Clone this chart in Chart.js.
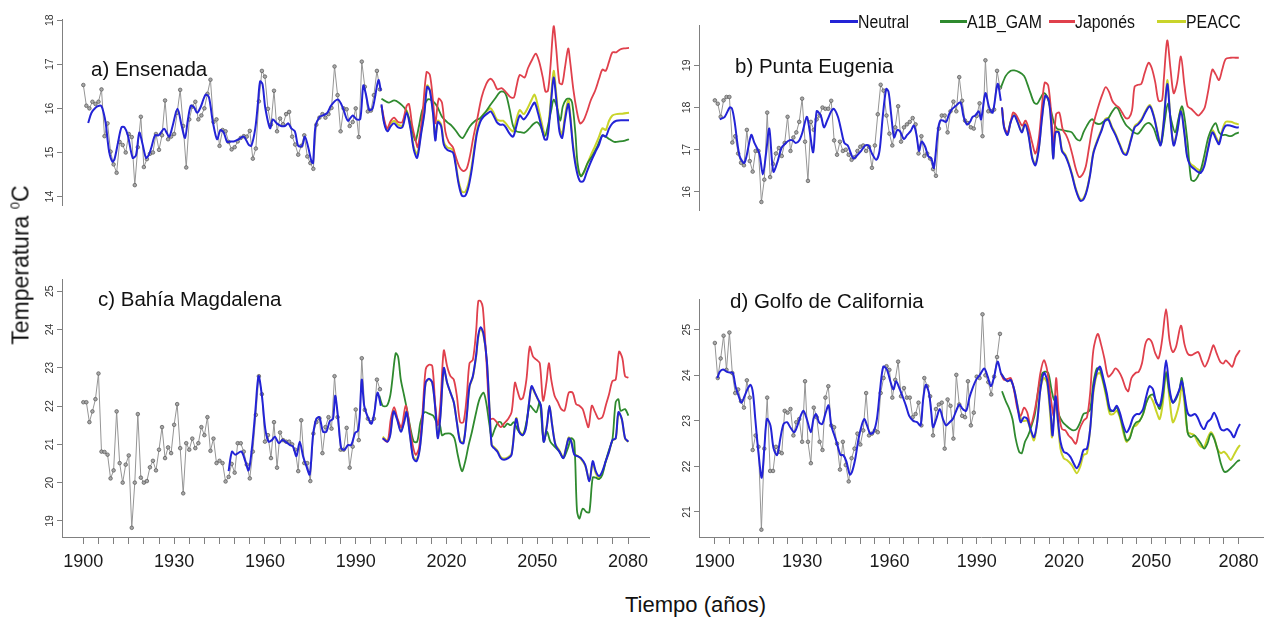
<!DOCTYPE html>
<html><head><meta charset="utf-8">
<script src="https://cdn.jsdelivr.net/npm/chart.js@4.4.1/dist/chart.umd.min.js"></script>
<style>
html,body{margin:0;padding:0;background:#fff;width:1270px;height:619px;overflow:hidden;font-family:"Liberation Sans",Arial,sans-serif;}
canvas{position:absolute;}
.t{position:absolute;white-space:nowrap;color:#111;}
.ttl{font-size:20.5px;line-height:20.5px;}
.lg{position:absolute;height:3px;}
.lt{position:absolute;top:13px;font-size:18px;line-height:18px;color:#111;transform:scaleX(0.88);transform-origin:left center;white-space:nowrap;}
</style></head><body>
<canvas id="ca" style="left:22px;top:15px" width="632" height="235"></canvas>
<canvas id="cb" style="left:659px;top:21px" width="609" height="234"></canvas>
<canvas id="cc" style="left:22px;top:275px" width="632" height="307"></canvas>
<canvas id="cd" style="left:659px;top:295px" width="609" height="287"></canvas>

<div class="t ttl" style="left:91px;top:59px">a) Ensenada</div>
<div class="t ttl" style="left:735px;top:56px">b) Punta Eugenia</div>
<div class="t ttl" style="left:98px;top:289px">c) Bahía Magdalena</div>
<div class="t ttl" style="left:730px;top:291px">d) Golfo de California</div>

<div class="t" style="left:21px;top:265px;font-size:23px;line-height:23px;transform:translate(-50%,-50%) rotate(-90deg);">Temperatura <sup style="font-size:13px;vertical-align:9px;line-height:0">0</sup>C</div>
<div class="t" style="left:625px;top:594px;font-size:22px;line-height:22px;">Tiempo (años)</div>

<div class="lg" style="left:830px;top:20px;width:28px;background:#2323d6"></div>
<span class="lt" style="left:858px">Neutral</span>
<div class="lg" style="left:940px;top:20px;width:27px;background:#2f8a2f"></div>
<span class="lt" style="left:967px">A1B_GAM</span>
<div class="lg" style="left:1049px;top:20px;width:26px;background:#e0404c"></div>
<span class="lt" style="left:1075px">Japonés</span>
<div class="lg" style="left:1157px;top:20px;width:29px;background:#c9d42a"></div>
<span class="lt" style="left:1186px">PEACC</span>

<script>
// ---------- axis ticks ----------
const xTickLabels = [1900,1930,1960,1990,2020,2050,2080];
const xMinorTicks = [1900,1905,1910,1915,1920,1925,1930,1935,1940,1945,1950,1955,1960,1965,1970,1975,1980,1985,1990,1995,2000,2005,2010,2015,2020,2025,2030,2035,2040,2045,2050,2055,2060,2065,2070,2075,2080];
const yTicksA = [14,15,16,17,18];
const yTicksB = [16,17,18,19];
const yTicksC = [19,20,21,22,23,24,25];
const yTicksD = [21,22,23,24,25];

// ---------- observed years (categories) ----------
const obsYears = [1900,1901,1902,1903,1904,1905,1906,1907,1908,1909,1910,1911,1912,1913,1914,1915,1916,1917,1918,1919,1920,1921,1922,1923,1924,1925,1926,1927,1928,1929,1930,1931,1932,1933,1934,1935,1936,1937,1938,1939,1940,1941,1942,1943,1944,1945,1946,1947,1948,1949,1950,1951,1952,1953,1954,1955,1956,1957,1958,1959,1960,1961,1962,1963,1964,1965,1966,1967,1968,1969,1970,1971,1972,1973,1974,1975,1976,1977,1978,1979,1980,1981,1982,1983,1984,1985,1986,1987,1988,1989,1990,1991,1992,1993,1994,1995,1996,1997,1998];

// ---------- a) Ensenada ----------
const aObs = [16.53,16.06,16.0,16.15,16.1,16.15,16.43,15.37,15.66,15.02,14.73,14.54,15.24,15.17,15.0,15.42,15.35,14.26,15.12,15.81,14.67,14.85,14.97,15.0,15.42,15.06,15.39,16.18,15.3,15.36,15.42,15.9,16.42,15.6,14.66,15.75,16.04,16.15,15.75,15.84,16.0,16.33,16.65,15.69,15.75,15.15,15.51,15.48,15.24,15.07,15.12,15.25,15.33,15.37,15.36,15.49,14.86,15.09,16.16,16.85,16.72,15.99,15.63,16.4,15.48,15.77,15.64,15.87,15.92,15.36,15.18,14.95,15.15,15.39,14.91,14.76,14.63,15.63,15.79,15.87,15.79,15.87,16.01,16.95,16.3,15.48,16.0,15.98,15.6,15.69,16.0,15.35,17.06,16.49,15.93,15.95,16.3,16.85,16.43];
const aNeuHist = [[1901.6,15.67],[1902.7,15.9],[1904.1,16.02],[1905.2,16.06],[1906,16.05],[1906.7,15.9],[1907.4,15.66],[1908.5,15.03],[1909.6,14.79],[1910.3,14.85],[1911.5,15.24],[1912.6,15.57],[1913.6,15.57],[1914.7,15.39],[1916.3,14.88],[1917.4,14.94],[1918.5,15.45],[1919.6,15.18],[1920.7,14.88],[1921.6,14.94],[1922.5,15.12],[1923.7,15.39],[1924.9,15.39],[1926.7,15.54],[1927.5,15.45],[1928.4,15.36],[1929.5,15.6],[1931.1,15.99],[1932.5,15.6],[1933.6,15.33],[1934.5,15.72],[1935.5,16.06],[1936.6,16.02],[1937.6,15.9],[1938.7,16.02],[1940.4,16.31],[1941.5,16.25],[1942.8,15.69],[1944.2,15.3],[1945.3,15.51],[1946.4,15.45],[1947.5,15.24],[1948.6,15.25],[1949.7,15.25],[1951.3,15.3],[1953,15.36],[1954.6,15.18],[1955.5,15.15],[1956.8,15.54],[1957.7,16.13],[1958.4,16.61],[1959.2,16.55],[1960.1,16.02],[1961.7,15.55],[1962.6,15.75],[1963.9,15.66],[1965.3,15.6],[1966.6,15.6],[1967.7,15.66],[1968.8,15.54],[1969.9,15.48],[1971,15.15],[1972.3,15.15],[1973.2,15.36],[1974.3,15.12],[1975.4,14.79],[1975.9,14.76],[1976.7,15.6],[1978.1,15.81],[1979.2,15.84],[1980.6,15.9],[1981.9,16.07],[1984.1,16.2],[1985.7,16.02],[1987.4,15.72],[1989,15.84],[1990.3,15.75],[1991.5,15.76],[1992.5,16.52],[1993.4,16.31],[1994.5,15.96],[1995.6,16.0],[1997.5,16.64],[1998.3,16.4]];
const aNeuProj = [[1998.5,16.09],[1999.4,15.66],[2000.5,15.48],[2001.6,15.6],[2002.7,15.66],[2004,15.57],[2005.4,15.57],[2006.8,15.9],[2008.1,15.54],[2009.2,15.06],[2010.3,14.88],[2011.6,15.42],[2012.7,15.9],[2013.6,16.49],[2014.5,16.4],[2015.6,15.84],[2016.3,15.27],[2017.1,15.69],[2018.2,15.6],[2019.1,15.18],[2020.2,15.06],[2022.1,15.0],[2022.9,14.76],[2024,14.29],[2025.1,14.02],[2026.2,14.02],[2027.3,14.23],[2028.4,14.64],[2030,15.42],[2031.1,15.69],[2032.2,15.81],[2033.8,15.9],[2034.6,15.93],[2035.5,15.84],[2036.6,15.69],[2037.7,15.63],[2038.7,15.63],[2039.6,15.57],[2040.9,15.42],[2042,15.36],[2043.1,15.6],[2044.2,15.84],[2045.5,15.75],[2046.9,15.87],[2048,16.02],[2049.1,16.13],[2050.2,15.9],[2051.3,15.6],[2052.4,15.3],[2053.2,15.3],[2054,15.72],[2054.6,16.19],[2055.4,16.7],[2056.2,16.25],[2057.3,15.48],[2058.2,15.33],[2059.1,15.72],[2060.2,16.1],[2060.8,15.84],[2061.9,15.06],[2063,14.58],[2064.1,14.35],[2065.2,14.35],[2066.3,14.55],[2067.7,14.79],[2069.1,15.0],[2070.4,15.18],[2071.5,15.39],[2072.6,15.36],[2073.7,15.54],[2074.8,15.66],[2076.1,15.72],[2078.1,15.73],[2080.3,15.73]];
const aJap = [[1998.5,16.05],[2000.3,15.54],[2001.6,15.72],[2002.7,15.79],[2004,15.69],[2005.4,15.69],[2006.8,16.05],[2007.6,16.1],[2008.7,15.6],[2009.8,15.27],[2010.5,15.12],[2012,15.84],[2013.4,16.82],[2014.5,16.76],[2015.6,16.13],[2016.3,15.66],[2017.4,16.22],[2018.5,16.13],[2019.6,15.48],[2020.7,15.24],[2022.1,15.12],[2022.9,14.94],[2024.3,14.67],[2025.6,14.58],[2026.7,14.64],[2027.8,14.94],[2028.9,15.36],[2030.2,15.78],[2031.6,16.25],[2033.1,16.55],[2034.4,16.67],[2035.5,16.61],[2036.8,16.43],[2038.2,16.46],[2039.6,16.37],[2041.2,16.25],[2042.3,16.25],[2043.1,16.49],[2044.2,16.76],[2045.8,16.7],[2046.9,16.91],[2048.4,17.12],[2049.5,17.24],[2050.6,17.06],[2051.9,16.67],[2052.7,16.38],[2053.5,16.4],[2054.3,16.91],[2055.4,17.86],[2056.2,17.39],[2057.3,16.58],[2058.2,16.55],[2059.1,16.91],[2060.2,17.36],[2060.8,17.09],[2061.9,16.43],[2063,15.96],[2064.1,15.66],[2065.2,15.72],[2066.3,15.9],[2067.7,16.19],[2069.1,16.4],[2070.4,16.67],[2071.5,16.88],[2072.6,16.85],[2073.7,17.06],[2074.8,17.27],[2076.1,17.27],[2077.2,17.33],[2078.6,17.36],[2080.3,17.37]];
const aA1B = [[1998.5,16.22],[1999.9,16.16],[2001,16.13],[2002.7,16.18],[2004.3,16.13],[2006,16.02],[2007,15.9],[2008.4,15.6],[2009.2,15.36],[2009.8,15.27],[2010.9,15.6],[2012,15.96],[2013.6,16.19],[2014.7,16.2],[2016,16.13],[2017.1,16.02],[2018.5,15.81],[2020.2,15.69],[2021.8,15.6],[2023.2,15.48],[2024.5,15.36],[2025.4,15.33],[2026.5,15.45],[2027.8,15.6],[2029.5,15.72],[2031.1,15.78],[2032.7,15.9],[2034.4,16.07],[2036,16.22],[2037.7,16.37],[2039,16.37],[2039.8,16.28],[2040.9,15.96],[2042,15.6],[2043.1,15.48],[2044.4,15.46],[2045.8,15.45],[2047.3,15.54],[2048.6,15.64],[2049.9,15.69],[2051,15.6],[2052.4,15.36],[2053.5,15.6],[2054.6,15.96],[2055.4,16.2],[2056.5,16.02],[2057.6,15.72],[2058.4,16.04],[2059.5,16.2],[2060.6,16.22],[2061.5,16.13],[2062.6,15.42],[2063.3,14.76],[2064.4,14.46],[2065.5,14.58],[2066.6,14.76],[2068.3,14.94],[2069.9,15.15],[2071.5,15.39],[2072.6,15.36],[2073.9,15.3],[2075.4,15.24],[2077.2,15.25],[2079,15.27],[2080.3,15.3]];
const aPEACC = [[1998.5,16.07],[1999.4,15.69],[2000.5,15.54],[2001.6,15.66],[2002.7,15.72],[2004,15.63],[2005.4,15.61],[2006.8,15.96],[2008.1,15.57],[2009.2,15.12],[2010.3,14.97],[2011.6,15.45],[2012.7,15.93],[2013.6,16.52],[2014.5,16.42],[2015.6,15.87],[2016.3,15.33],[2017.1,15.72],[2018.2,15.64],[2019.1,15.24],[2020.2,15.12],[2022.1,15.06],[2022.9,14.82],[2024,14.35],[2025.1,14.11],[2026.2,14.11],[2027.3,14.32],[2028.4,14.73],[2030,15.48],[2031.1,15.75],[2032.2,15.87],[2033.8,15.97],[2034.6,16.0],[2035.5,15.91],[2036.6,15.75],[2037.7,15.72],[2038.7,15.72],[2039.6,15.66],[2040.9,15.54],[2042,15.48],[2043.1,15.75],[2044.2,15.96],[2045.5,15.87],[2046.9,16.02],[2048,16.18],[2049.1,16.31],[2050.2,16.05],[2051.3,15.72],[2052.4,15.42],[2053.2,15.41],[2054,15.84],[2054.6,16.31],[2055.4,16.85],[2056.2,16.37],[2057.3,15.57],[2058.2,15.42],[2059.1,15.81],[2060.2,16.19],[2060.8,15.92],[2061.9,15.12],[2063,14.67],[2064.1,14.49],[2065.2,14.52],[2066.3,14.7],[2067.7,14.94],[2069.1,15.15],[2070.4,15.36],[2071.5,15.55],[2072.6,15.51],[2073.7,15.72],[2074.8,15.84],[2076.1,15.87],[2078.1,15.88],[2080.3,15.9]];

// ---------- b) Punta Eugenia ----------
const bObs = [18.17,18.09,17.78,18.17,18.25,18.25,17.17,17.32,16.91,16.69,16.63,17.47,16.73,16.48,16.97,16.97,15.76,16.29,17.88,16.35,16.66,16.91,17.04,16.85,17.16,17.78,16.97,17.29,17.41,17.66,18.21,17.19,16.26,17.66,17.47,17.72,17.81,18.0,17.97,17.97,18.16,17.22,16.88,17.19,16.97,17.0,16.88,16.76,16.82,16.97,17.07,17.1,16.97,17.07,16.57,17.1,17.84,18.54,18.4,17.81,17.38,17.1,17.53,18.03,17.19,17.53,17.6,17.66,17.75,17.6,16.91,17.32,16.85,16.91,16.79,16.54,16.38,17.5,17.81,17.81,17.41,17.91,18.14,17.91,18.72,18.16,17.69,17.63,17.53,17.5,17.8,18.1,17.32,19.12,17.91,17.91,17.95,18.87,18.47];
const bNeuHist = [[1901.7,17.72],[1903.4,17.78],[1905.1,18.0],[1905.9,17.97],[1906.8,17.66],[1908.5,16.85],[1910.2,16.69],[1912.5,17.35],[1913.6,17.16],[1915.3,16.91],[1916.5,16.41],[1917.6,16.91],[1918.7,17.5],[1920.1,16.48],[1921.6,16.73],[1922.9,17.04],[1924.4,17.16],[1925.6,17.22],[1926.7,17.22],[1927.8,17.16],[1929,17.22],[1930.1,17.41],[1931.6,17.78],[1932.4,17.53],[1933.8,16.94],[1935,17.91],[1936.4,17.81],[1937.5,17.53],[1938.6,17.69],[1940,17.91],[1940.9,17.97],[1942.3,17.78],[1943.4,17.47],[1944.5,17.16],[1945.7,17.1],[1946.6,16.94],[1947.7,16.79],[1949.1,16.88],[1950.3,16.97],[1951.7,17.1],[1952.8,17.1],[1954,16.91],[1955.5,16.76],[1956.6,16.97],[1957.7,17.78],[1958.9,18.44],[1959.7,18.37],[1960.6,17.84],[1961.6,17.29],[1962.7,17.47],[1963.6,17.44],[1965,17.25],[1966.1,17.35],[1967.3,17.44],[1968.4,17.57],[1969.3,17.35],[1970.2,16.97],[1971.1,17.19],[1972.3,17.07],[1973.3,16.85],[1974.4,16.79],[1975.3,16.57],[1976.7,17.47],[1977.5,17.69],[1978.4,17.69],[1979.5,17.66],[1980.5,17.84],[1981.6,17.97],[1982.7,18.03],[1984.4,18.12],[1985.5,17.78],[1986.6,17.6],[1987.7,17.66],[1988.6,17.78],[1989.5,17.81],[1990.7,17.91],[1991.5,17.72],[1993,18.34],[1994.3,18.0],[1995.5,17.88],[1997.2,18.56],[1998.3,18.16]];
const bNeuProj = [[1998.7,18.0],[1999.4,17.53],[2000.6,17.35],[2001.7,17.66],[2002.9,17.81],[2004,17.66],[2005.5,17.41],[2006.6,17.6],[2007.7,17.38],[2009.1,16.79],[2010.2,16.63],[2011.4,17.04],[2012.5,17.78],[2013.6,18.28],[2014.8,18.16],[2015.7,17.53],[2016.3,16.79],[2017.1,17.41],[2018.2,17.41],[2019.3,16.97],[2020.5,16.85],[2021.6,16.66],[2022.7,16.41],[2024.1,16.04],[2025.6,15.79],[2026.7,15.82],[2027.9,16.04],[2029,16.41],[2030.1,16.91],[2031.6,17.22],[2033,17.47],[2034.1,17.69],[2035.2,17.72],[2036.4,17.53],[2037.7,17.35],[2039.2,17.1],[2040.4,16.91],[2041.5,16.88],[2043,17.22],[2044.3,17.53],[2045.5,17.6],[2046.6,17.69],[2048,17.88],[2049.5,18.03],[2050.9,17.78],[2052.1,17.41],[2053.2,17.1],[2054.3,17.66],[2055.5,18.56],[2056.6,17.72],[2057.7,17.1],[2058.9,17.41],[2060.2,17.91],[2061.4,17.38],[2062.3,16.85],[2063.4,16.63],[2064.8,16.54],[2065.9,16.48],[2067,16.45],[2068.2,16.6],[2069.6,17.04],[2071,17.41],[2072.5,17.22],[2073.3,17.13],[2074.4,17.41],[2075.6,17.57],[2077.3,17.57],[2079,17.53],[2080.1,17.53]];
const bJap = [[1998.7,18.0],[1999.5,17.53],[2000.6,17.41],[2001.7,17.66],[2002.5,17.88],[2003.4,17.84],[2004.6,17.69],[2005.7,17.57],[2006.8,17.69],[2008,17.47],[2009.1,17.16],[2010.2,16.91],[2011.4,17.29],[2012.5,18.09],[2013.4,18.59],[2014.6,18.52],[2015.7,17.78],[2016.3,17.04],[2017.3,17.84],[2018.4,17.88],[2019.6,17.47],[2020.7,17.35],[2021.8,17.16],[2023,16.85],[2024.1,16.54],[2025.2,16.35],[2026.4,16.41],[2027.5,16.6],[2028.6,17.04],[2029.8,17.53],[2030.9,17.81],[2032.1,18.09],[2033.2,18.31],[2034.3,18.48],[2035.5,18.37],[2036.6,18.16],[2037.7,18.06],[2038.9,18.0],[2040,17.88],[2041.2,17.75],[2042.3,17.75],[2043.4,17.94],[2044.3,18.5],[2045.5,18.54],[2046.6,18.56],[2047.7,18.81],[2049.1,19.06],[2050.2,18.93],[2051.4,18.59],[2052.5,18.16],[2053.7,18.17],[2054.3,18.65],[2055.5,19.59],[2056.6,18.93],[2057.7,18.34],[2058.9,18.59],[2060.2,19.21],[2061.4,18.53],[2062.5,18.03],[2063.7,17.97],[2065,17.88],[2066.2,17.81],[2067.3,17.88],[2068.4,18.0],[2069.6,18.4],[2071,18.9],[2072.2,18.78],[2073.3,18.65],[2074.4,18.9],[2075.6,19.15],[2077.3,19.18],[2079,19.18],[2080.1,19.18]];
const bA1B = [[1998.3,18.47],[2000,18.75],[2001.7,18.87],[2002.9,18.88],[2004.6,18.84],[2006.3,18.75],[2007.4,18.56],[2008.5,18.34],[2009.7,18.12],[2010.8,18.09],[2011.9,18.22],[2013.1,18.34],[2014.2,18.25],[2015.4,17.97],[2016.5,17.66],[2017.6,17.5],[2019.3,17.47],[2021,17.44],[2022.7,17.41],[2024.4,17.25],[2025.6,17.22],[2026.7,17.41],[2027.9,17.57],[2029,17.69],[2029.8,17.72],[2030.9,17.63],[2032.4,17.61],[2033.5,17.66],[2035,17.72],[2036.4,17.88],[2037.7,18.0],[2038.6,17.97],[2039.8,17.78],[2041.2,17.6],[2042.6,17.5],[2044.1,17.41],[2045.5,17.38],[2046.6,17.47],[2048,17.6],[2049.4,17.63],[2050.9,17.5],[2052.3,17.22],[2053.4,17.13],[2054.6,17.66],[2055.7,18.09],[2056.8,17.72],[2058.2,17.41],[2059.3,17.72],[2060.5,18.03],[2061.4,17.78],[2062.5,17.16],[2063.7,16.29],[2064.8,16.26],[2065.9,16.35],[2067.1,16.54],[2068.2,16.85],[2069.6,17.29],[2071,17.53],[2072.2,17.63],[2073.3,17.41],[2074.4,17.35],[2075.6,17.35],[2077.3,17.32],[2079,17.38],[2080.1,17.41]];
const bPEACC = [[1998.7,18.0],[1999.4,17.55],[2000.6,17.37],[2001.7,17.68],[2002.9,17.83],[2004,17.68],[2005.5,17.43],[2006.6,17.62],[2007.7,17.4],[2009.1,16.82],[2010.2,16.66],[2011.4,17.06],[2012.5,17.8],[2013.6,18.3],[2014.8,18.18],[2015.7,17.55],[2016.3,16.82],[2017.1,17.43],[2018.2,17.43],[2019.3,17.0],[2020.5,16.88],[2021.6,16.69],[2022.7,16.44],[2024.1,16.07],[2025.6,15.82],[2026.7,15.85],[2027.9,16.07],[2029,16.44],[2030.1,16.94],[2031.6,17.25],[2033,17.5],[2034.1,17.72],[2035.2,17.75],[2036.4,17.56],[2037.7,17.38],[2039.2,17.13],[2040.4,16.94],[2041.5,16.91],[2043,17.25],[2044.3,17.56],[2045.5,17.63],[2046.6,17.72],[2048,17.91],[2049.5,18.06],[2050.9,17.81],[2052.1,17.44],[2053.2,17.13],[2054.3,17.69],[2055.5,18.65],[2056.6,17.75],[2057.7,17.13],[2058.9,17.44],[2060.2,17.97],[2061.4,17.41],[2062.3,16.88],[2063.4,16.68],[2064.8,16.6],[2065.9,16.54],[2067,16.5],[2068.2,16.65],[2069.6,17.08],[2071,17.46],[2072.5,17.27],[2073.3,17.18],[2074.4,17.46],[2075.6,17.66],[2077.3,17.66],[2079,17.62],[2080.1,17.6]];

// ---------- c) Bahía Magdalena ----------
const cObs = [22.1,22.1,21.58,21.86,22.18,22.85,20.81,20.8,20.73,20.11,20.32,21.86,20.51,20.0,20.47,20.71,18.82,20.0,21.79,20.13,20.0,20.04,20.4,20.57,20.32,20.86,21.45,20.64,20.92,20.77,21.51,22.05,20.9,19.72,21.03,20.86,21.15,20.9,21.03,21.45,21.24,21.71,20.83,21.15,20.51,20.57,20.51,20.03,20.15,20.49,20.26,21.03,21.03,20.81,20.47,20.11,20.81,21.77,22.78,22.31,21.07,21.24,20.64,21.58,20.39,21.31,21.11,21.07,21.07,21.0,20.86,20.3,21.63,20.51,20.51,20.04,21.28,21.58,21.68,20.77,21.45,21.71,21.41,22.78,21.71,20.86,20.86,21.43,20.39,20.94,21.91,21.11,23.25,21.9,21.67,21.58,21.67,22.69,22.44];
const cNeuHist = [[1948,20.3],[1949.1,20.81],[1950.2,20.73],[1952.2,20.81],[1953.5,20.56],[1954.6,20.32],[1955.7,20.9],[1956.8,21.84],[1957.9,22.78],[1959,22.27],[1960.1,21.41],[1961.2,21.07],[1962.3,21.11],[1963.3,21.2],[1964.6,21.03],[1965.7,21.11],[1966.8,21.07],[1968.3,20.98],[1969.3,20.94],[1970.4,20.69],[1971.5,21.07],[1972.6,20.69],[1973.7,20.43],[1974.8,20.21],[1975.9,21.24],[1977,21.67],[1978,21.71],[1979.2,21.33],[1980.3,21.33],[1981.4,21.6],[1982.5,21.67],[1983.2,22.27],[1984.1,21.75],[1985.2,20.9],[1986.3,20.86],[1987.4,20.98],[1988.5,20.98],[1989.8,21.3],[1990.7,21.35],[1991.3,21.7],[1992,22.69],[1992.8,22.01],[1994.2,21.67],[1995.2,21.54],[1996.1,21.8],[1997.2,22.35],[1998.3,22.01]];
const cNeuProj = [[1998.9,21.16],[2000.5,21.07],[2001.4,21.24],[2002.5,21.86],[2003.6,21.67],[2004.9,21.33],[2006,21.58],[2006.8,21.84],[2007.9,21.24],[2009,20.64],[2010.1,20.56],[2011.2,20.9],[2012.3,21.84],[2013.1,22.61],[2014.2,22.71],[2015.3,22.61],[2016.3,21.92],[2017.1,21.16],[2018,21.75],[2019.1,22.99],[2020.2,22.61],[2021.3,22.35],[2022.4,22.1],[2023.4,21.58],[2024.5,21.07],[2025.6,21.03],[2026.7,21.75],[2027.6,22.52],[2028.7,22.78],[2029.8,23.34],[2030.5,23.85],[2031.3,24.06],[2032.2,23.89],[2033.3,23.21],[2034.2,21.92],[2034.9,20.98],[2035.7,20.9],[2036.8,20.81],[2037.9,20.64],[2039,20.6],[2040.4,20.64],[2041.5,20.73],[2042.6,21.5],[2043.1,21.67],[2044,21.33],[2045.1,21.24],[2046.2,21.41],[2047.3,22.1],[2048.1,22.52],[2049.2,22.35],[2050.2,22.18],[2051.2,22.01],[2052.1,21.07],[2053.2,21.5],[2054,22.01],[2054.9,21.5],[2056,20.98],[2057.3,20.81],[2058.6,20.64],[2059.5,20.9],[2060.4,21.16],[2061.2,21.07],[2062.2,20.73],[2063.3,20.69],[2064.4,20.64],[2065.8,20.47],[2067.2,20.04],[2068.3,20.56],[2069.3,20.3],[2070.4,20.17],[2071.5,20.3],[2072.6,20.56],[2073.7,20.81],[2074.8,21.11],[2075.9,21.16],[2076.8,21.84],[2077.9,21.67],[2079,21.16],[2080.1,21.07]];
const cJap = [[1998.9,21.16],[2000.5,21.07],[2001.6,21.67],[2002.7,21.97],[2003.8,21.67],[2005.1,21.45],[2006.5,22.01],[2007.6,21.58],[2008.7,21.03],[2009.8,20.73],[2010.9,20.9],[2012,21.75],[2013.1,22.95],[2014.2,23.08],[2015.3,23.04],[2016.3,22.01],[2017.1,21.5],[2018,22.1],[2019.1,23.45],[2020.2,23.04],[2021.3,22.78],[2022.4,22.69],[2023.4,22.27],[2024.5,21.58],[2025.6,21.58],[2026.7,22.27],[2027.6,23.12],[2028.7,23.21],[2029.8,23.98],[2030.5,24.74],[2031.3,24.74],[2032,24.57],[2033.1,23.29],[2034.4,21.67],[2035.5,21.67],[2036.6,21.58],[2037.9,21.45],[2039,21.54],[2040.4,21.67],[2041.5,21.84],[2042.6,22.61],[2043.3,22.44],[2044.4,22.18],[2045.3,22.22],[2046.4,22.69],[2047.5,23.55],[2048.6,23.29],[2049.7,23.21],[2050.8,23.12],[2051.9,22.14],[2053,22.61],[2053.8,23.12],[2054.6,22.69],[2055.7,22.27],[2056.8,22.1],[2057.9,21.92],[2059,21.88],[2060.4,22.35],[2061.7,22.35],[2062.8,22.05],[2063.9,22.01],[2065,21.92],[2065.8,21.71],[2066.9,21.45],[2068,22.01],[2069.1,21.84],[2070.2,21.67],[2071.5,21.71],[2072.6,22.01],[2073.7,22.31],[2074.8,22.65],[2075.9,22.69],[2077,23.42],[2078.1,23.25],[2079,22.78],[2080.1,22.74]];
const cA1B = [[1997.8,22.27],[1998.9,22.01],[2000.3,22.01],[2001.4,22.27],[2002.1,22.69],[2003.2,23.38],[2004,23.29],[2004.9,22.69],[2006,22.27],[2007.1,21.84],[2008.1,21.41],[2009.2,21.07],[2010.3,21.07],[2011.4,21.58],[2012.7,21.84],[2014.2,21.8],[2015.6,21.75],[2016.7,21.58],[2017.8,21.5],[2018.5,21.24],[2019.6,21.28],[2021.3,21.28],[2022.6,21.16],[2023.7,20.73],[2025.1,20.3],[2026.2,20.56],[2027.3,20.98],[2028.4,21.33],[2029.8,21.84],[2030.9,22.18],[2032.2,22.35],[2033.1,22.1],[2034.2,21.5],[2034.9,21.2],[2036,21.41],[2037.1,21.58],[2037.9,21.58],[2039,21.45],[2040.1,21.54],[2041.2,21.5],[2042.2,21.58],[2043.3,21.41],[2044.4,21.28],[2045.3,21.24],[2046.4,21.58],[2047.5,22.01],[2048.6,21.92],[2049.7,21.84],[2050.8,22.1],[2052.1,21.07],[2053.2,21.33],[2054.3,21.07],[2055.7,20.94],[2057.3,20.81],[2058.6,20.64],[2060.1,20.9],[2061.2,21.16],[2062.2,21.07],[2063.1,19.28],[2063.9,19.06],[2065,19.32],[2066.3,19.23],[2067.2,19.23],[2068.3,20.13],[2069.3,20.13],[2070.4,20.09],[2071.5,20.21],[2072.6,20.56],[2073.7,20.86],[2074.8,21.11],[2075.9,22.1],[2076.8,22.18],[2077.5,21.88],[2079,21.92],[2080.1,21.75]];
const cPEACC = [[1998.9,21.2],[2000.5,21.1],[2001.4,21.27],[2002.5,21.88],[2003.6,21.7],[2004.9,21.36],[2006,21.6],[2006.8,21.86],[2007.9,21.27],[2009,20.68],[2010.1,20.6],[2011.2,20.93],[2012.3,21.86],[2013.1,22.6],[2014.2,22.7],[2015.3,22.6],[2016.3,21.95],[2017.1,21.2],[2018,21.77],[2019.1,22.97],[2020.2,22.6],[2021.3,22.35],[2022.4,22.1],[2023.4,21.6],[2024.5,21.1],[2025.6,21.06],[2026.7,21.77],[2027.6,22.5],[2028.7,22.76],[2029.8,23.3],[2030.5,23.8],[2031.3,24.02],[2032.2,23.86],[2033.3,23.2],[2034.2,21.95],[2034.9,21.0],[2035.7,20.93],[2036.8,20.84],[2037.9,20.67],[2039,20.63],[2040.4,20.67],[2041.5,20.76],[2042.6,21.52],[2043.1,21.69],[2044,21.36],[2045.1,21.27],[2046.2,21.44],[2047.3,22.1],[2048.1,22.5],[2049.2,22.33],[2050.2,22.17],[2051.2,22.0],[2052.1,21.1],[2053.2,21.52],[2054,22.0],[2054.9,21.52],[2056,21.0],[2057.3,20.84],[2058.6,20.67],[2059.5,20.92],[2060.4,21.18],[2061.2,21.1],[2062.2,20.76],[2063.3,20.7],[2064.4,20.62],[2065.8,20.45],[2067.2,20.06],[2068.3,20.5],[2069.3,20.25],[2070.4,20.12],[2071.5,20.27],[2072.6,20.55],[2073.7,20.8],[2074.8,21.1],[2075.9,21.15],[2076.8,21.82],[2077.9,21.66],[2079,21.15],[2080.1,21.06]];

// ---------- d) Golfo de California ----------
const dObs = [24.71,23.94,24.37,24.87,24.12,24.94,24.05,23.61,23.69,23.43,23.29,23.89,23.51,22.36,22.68,22.43,20.61,22.39,23.51,21.9,21.9,22.43,22.32,22.29,23.22,23.18,23.26,22.68,22.97,23.04,22.54,23.87,22.54,22.07,23.29,23.08,22.54,22.36,23.51,23.76,22.9,22.86,22.5,21.93,22.54,22.03,21.67,22.18,22.39,22.72,22.48,22.79,23.61,22.68,22.72,22.79,22.75,23.61,23.94,24.2,24.12,23.51,23.9,24.3,23.54,23.72,23.51,23.51,23.08,23.15,23.4,22.9,23.94,23.76,23.54,22.68,23.26,23.36,23.4,22.39,23.47,23.33,22.61,24.01,23.36,23.11,23.08,23.87,22.9,23.18,23.97,23.94,25.34,24.0,23.85,23.58,23.97,24.4,24.91];
const dNeuHist = [[1900.9,23.94],[1901.7,24.08],[1902.8,24.13],[1904,24.08],[1905.1,24.06],[1906.2,24.05],[1907.1,23.76],[1908.2,23.54],[1909.1,23.4],[1910.2,23.54],[1911.4,23.72],[1912.3,23.79],[1913.1,23.61],[1913.9,23.04],[1915,22.29],[1916.1,21.75],[1917,22.39],[1917.9,23.04],[1919.1,22.9],[1920.2,22.39],[1921.4,22.25],[1922.5,22.61],[1923.6,22.93],[1924.8,22.97],[1925.9,22.86],[1927.3,22.75],[1928.4,22.9],[1929.5,23.11],[1930.5,23.22],[1931.6,23.04],[1933,22.75],[1933.9,23.04],[1934.8,23.15],[1935.8,22.97],[1936.9,22.93],[1938.1,23.18],[1939.1,23.34],[1940,22.9],[1941.1,22.68],[1942,22.5],[1943.2,22.25],[1944.1,22.25],[1945.2,22.11],[1946.4,21.82],[1947.2,21.89],[1948.3,22.18],[1949.4,22.61],[1950.6,22.93],[1951.4,23.04],[1952.3,22.9],[1953.4,22.72],[1954.5,22.75],[1955.7,23.04],[1956.8,23.69],[1957.9,24.19],[1959.1,24.13],[1960.5,23.83],[1961.4,23.69],[1962.3,23.87],[1963.4,23.72],[1964.5,23.54],[1965.7,23.33],[1966.8,23.11],[1968.2,23.0],[1969.5,22.97],[1970.7,22.9],[1971.6,23.47],[1972.5,23.79],[1973.6,23.61],[1974.4,23.18],[1975,22.86],[1976.1,23.04],[1977.3,23.26],[1978.4,23.04],[1979.5,22.9],[1980.7,22.97],[1981.8,23.04],[1983.2,23.26],[1984.1,23.36],[1985.2,23.26],[1986.4,23.22],[1987.5,23.51],[1988.6,23.72],[1989.8,23.9],[1991.1,24.01],[1992.6,24.15],[1993.8,23.97],[1994.9,23.76],[1996,23.97],[1997.2,24.3],[1998.3,24.05]];
const dNeuProj = [[1998.3,24.05],[1999.4,23.94],[2000.6,23.87],[2001.7,23.9],[2002.9,23.69],[2004,23.33],[2005.1,22.97],[2006.3,23.08],[2007.4,23.04],[2008.5,22.82],[2009.7,22.64],[2010.8,22.97],[2011.9,23.69],[2013.1,24.05],[2014.2,23.9],[2015.4,23.18],[2016.1,22.68],[2017.1,23.54],[2018,22.97],[2018.8,22.54],[2019.9,22.32],[2021,22.29],[2022.2,22.21],[2023.3,22.07],[2024.4,21.96],[2025.6,22.11],[2026.7,22.36],[2027.9,22.39],[2029,22.82],[2030.1,23.69],[2031.3,24.08],[2032.4,24.19],[2033.5,23.94],[2034.7,23.61],[2035.8,23.26],[2037,23.22],[2038.1,23.33],[2039.2,23.18],[2040.4,22.9],[2041.5,22.75],[2042.6,22.86],[2043.8,23.08],[2044.9,23.15],[2046,23.15],[2047.2,23.26],[2048.3,23.54],[2049.4,23.76],[2050.6,23.69],[2051.7,23.4],[2052.9,23.33],[2054,23.69],[2055.1,24.33],[2056.3,23.69],[2057.4,23.4],[2058.5,23.51],[2059.7,23.69],[2060.5,23.87],[2061.4,23.58],[2062.5,23.18],[2063.6,23.11],[2065,23.15],[2065.9,23.08],[2067.1,22.9],[2068.2,22.82],[2069.3,22.97],[2070.5,23.04],[2071.6,23.18],[2072.7,23.04],[2073.9,22.82],[2075,22.79],[2076.1,22.82],[2077.3,22.75],[2078.4,22.64],[2079.6,22.82],[2080.5,22.93]];
const dJap = [[1998.3,24.05],[1999.4,23.9],[2000.6,23.92],[2001.7,23.94],[2002.9,23.65],[2004,23.26],[2005.1,23.11],[2006.3,23.29],[2007.4,23.18],[2008.5,22.9],[2009.7,23.15],[2010.8,23.54],[2011.9,24.05],[2013.1,24.33],[2014.2,24.12],[2015.4,23.54],[2016.5,23.11],[2017.3,23.94],[2018.2,23.18],[2019.3,22.82],[2020.5,22.79],[2021.6,22.68],[2022.7,22.61],[2024.1,22.5],[2025.2,22.79],[2026.7,23.0],[2027.9,23.08],[2029,23.61],[2030.1,24.55],[2031.6,24.91],[2032.7,24.69],[2033.9,24.37],[2035.2,23.97],[2036.6,24.05],[2037.7,24.15],[2038.9,24.08],[2040,23.94],[2041.2,23.72],[2042.1,23.65],[2043.2,23.94],[2044.6,24.05],[2045.7,24.08],[2046.8,24.26],[2048,24.69],[2049.1,24.8],[2050.2,24.73],[2051.4,24.48],[2052.5,24.37],[2053.7,24.76],[2055.1,25.45],[2056.3,24.76],[2057.4,24.51],[2058.5,24.62],[2060.2,25.09],[2061.4,24.69],[2062.5,24.48],[2063.6,24.44],[2065,24.48],[2066.2,24.51],[2067.3,24.33],[2068.4,24.19],[2069.6,24.33],[2070.7,24.55],[2071.4,24.66],[2072.5,24.48],[2073.7,24.3],[2074.8,24.26],[2075.6,24.33],[2076.7,24.26],[2077.9,24.19],[2079,24.4],[2080.5,24.55]];
const dA1B = [[1998.7,23.65],[2000,23.43],[2001.2,23.26],[2002.3,23.04],[2003.4,22.61],[2004.6,22.32],[2005.5,22.29],[2006.6,22.54],[2007.7,22.68],[2008.9,22.9],[2010,23.15],[2011.2,23.69],[2012.3,24.01],[2013.4,24.08],[2014.6,24.05],[2015.7,23.69],[2016.5,23.47],[2017.3,23.4],[2018.4,23.11],[2019.6,22.97],[2020.7,22.9],[2022.2,22.82],[2023.3,22.79],[2024.4,22.82],[2025.6,22.97],[2026.7,23.15],[2027.9,23.18],[2029,23.25],[2030.1,23.83],[2031.3,24.15],[2032.4,24.12],[2033.5,23.87],[2034.7,23.54],[2035.8,23.22],[2037,23.22],[2038.1,23.29],[2039.2,23.11],[2040.4,22.82],[2041.5,22.57],[2042.6,22.61],[2043.8,22.86],[2044.9,22.97],[2046,23.0],[2047.2,23.15],[2048.3,23.4],[2049.4,23.54],[2050.6,23.58],[2051.7,23.43],[2052.9,23.26],[2054,23.54],[2055.1,24.05],[2056.3,23.61],[2057.4,23.4],[2058.5,23.47],[2059.7,23.69],[2060.5,23.94],[2061.6,23.4],[2062.5,22.75],[2063.6,22.64],[2064.8,22.68],[2065.9,22.61],[2067.1,22.5],[2068.2,22.39],[2069.3,22.5],[2070.5,22.72],[2071.6,22.61],[2072.7,22.39],[2073.9,22.07],[2075,21.89],[2076.1,21.89],[2077.3,21.96],[2078.4,22.03],[2079.6,22.11],[2080.5,22.14]];
const dPEACC = [[1998.3,24.05],[1999.4,23.94],[2000.6,23.87],[2001.7,23.89],[2002.9,23.69],[2004.6,23.18],[2005.7,23.0],[2007.4,23.0],[2008.5,22.79],[2009.7,22.57],[2010.8,22.97],[2011.9,23.69],[2013.1,23.94],[2014.2,23.83],[2015.4,23.04],[2015.9,22.64],[2017.1,23.4],[2018.8,22.39],[2019.9,22.18],[2021,22.14],[2022.7,22.03],[2024.4,21.85],[2025.6,22.0],[2026.7,22.25],[2027.9,22.29],[2029,22.82],[2030.1,23.61],[2031.3,24.01],[2032.4,24.05],[2033.5,23.83],[2034.7,23.47],[2035.8,23.15],[2037,23.15],[2038.1,23.22],[2039.2,23.08],[2040.4,22.75],[2041.5,22.54],[2042.6,22.64],[2043.8,22.86],[2044.9,22.9],[2046,23.0],[2047.2,23.15],[2048.3,23.4],[2049.4,23.54],[2050.6,23.43],[2051.7,23.22],[2052.9,23.04],[2054,23.4],[2055.1,24.08],[2056.3,23.47],[2057.4,22.97],[2058.5,23.11],[2059.7,23.4],[2060.5,23.79],[2061.4,23.4],[2062.5,22.75],[2063.6,22.72],[2064.8,22.68],[2065.9,22.54],[2067.1,22.43],[2068.2,22.43],[2069.3,22.61],[2070.5,22.75],[2071.6,22.64],[2072.7,22.39],[2073.9,22.29],[2075,22.32],[2076.1,22.25],[2077.3,22.14],[2078.4,22.25],[2079.6,22.39],[2080.5,22.47]];

// ---------- rendering ----------
const COL = {neu:'#2323d6', a1b:'#2f8a2f', jap:'#e0404c', peacc:'#c9d42a', obs:'#959595'};
const FONT = '"Liberation Sans", Arial, sans-serif';
const xy = arr => arr.map(p => ({x:p[0], y:p[1]}));

const axisTextPlugin = {
  id:'axisText',
  afterDraw(chart, args, opts) {
    const ctx = chart.ctx, ys = chart.scales.y, xs = chart.scales.x, ca = chart.chartArea;
    ctx.save();
    ctx.fillStyle = '#333';
    ctx.font = '10.5px ' + FONT;
    ctx.textAlign = 'center';
    ctx.textBaseline = 'alphabetic';
    ys.ticks.forEach(t => {
      const py = ys.getPixelForValue(t.value);
      ctx.save();
      ctx.translate(ca.left - 9, py);
      ctx.rotate(-Math.PI / 2);
      ctx.fillText(String(t.value), 0, 0);
      ctx.restore();
    });
    if (opts.showX) {
      ctx.fillStyle = '#1a1a1a';
      ctx.font = '18px ' + FONT;
      xTickLabels.forEach(v => {
        ctx.fillText(String(v), xs.getPixelForValue(v), ca.bottom + 30);
      });
    }
    ctx.restore();
  }
};

function makePanel(id, p) {
  const datasets = [
    {data: xy(p.neuHist), borderColor: COL.neu, borderWidth: 2, pointRadius: 0, tension: 0.3},
    {data: xy(p.neuProj), borderColor: COL.neu, borderWidth: 2, pointRadius: 0, tension: 0.3},
    {data: xy(p.jap), borderColor: COL.jap, borderWidth: 1.8, pointRadius: 0, tension: 0.3},
    {data: xy(p.a1b), borderColor: COL.a1b, borderWidth: 1.8, pointRadius: 0, tension: 0.3},
    {data: xy(p.peacc), borderColor: COL.peacc, borderWidth: 2, pointRadius: 0, tension: 0.3},
    {data: p.obs.map((v, i) => ({x: obsYears[i], y: v})), borderColor: COL.obs, borderWidth: 1,
     pointRadius: 1.8, pointBackgroundColor: '#a8a8a8', pointBorderColor: '#555', pointBorderWidth: 0.7, tension: 0}
  ];
  new Chart(document.getElementById(id), {
    type: 'line',
    data: {datasets},
    plugins: [axisTextPlugin],
    options: {
      responsive: false, animation: false, devicePixelRatio: 1,
      layout: {padding: 0},
      plugins: {legend: {display: false}, tooltip: {enabled: false}, axisText: {showX: p.showX}},
      scales: {
        x: {type: 'linear', min: p.xMin, max: p.xMax, display: p.showX,
            afterBuildTicks: s => { s.ticks = xMinorTicks.map(v => ({value: v})); },
            ticks: {display: false},
            grid: {display: true, drawOnChartArea: false, drawTicks: true, tickLength: 7, color: '#808080'},
            border: {display: true, color: '#808080', width: 1},
            afterFit: s => { s.height = 45; }},
        y: {type: 'linear', min: p.yMin, max: p.yMax,
            afterBuildTicks: s => { s.ticks = p.yTicks.map(v => ({value: v})); },
            ticks: {display: false},
            grid: {display: true, drawOnChartArea: false, drawTicks: true, tickLength: 5, color: '#808080'},
            border: {display: true, color: '#808080', width: 1},
            afterFit: s => { s.width = 40; }}
      }
    }
  });
}

makePanel('ca', {obs: aObs, neuHist: aNeuHist, neuProj: aNeuProj, jap: aJap, a1b: aA1B, peacc: aPEACC,
  xMin: 1892.95, xMax: 2087.0, yMin: 13.81, yMax: 18.01, yTicks: yTicksA, showX: false});
makePanel('cb', {obs: bObs, neuHist: bNeuHist, neuProj: bNeuProj, jap: bJap, a1b: bA1B, peacc: bPEACC,
  xMin: 1894.55, xMax: 2088.52, yMin: 15.57, yMax: 19.94, yTicks: yTicksB, showX: false});
makePanel('cc', {obs: cObs, neuHist: cNeuHist, neuProj: cNeuProj, jap: cJap, a1b: cA1B, peacc: cPEACC,
  xMin: 1892.95, xMax: 2087.0, yMin: 18.58, yMax: 25.3, yTicks: yTicksC, showX: true});
makePanel('cd', {obs: dObs, neuHist: dNeuHist, neuProj: dNeuProj, jap: dJap, a1b: dA1B, peacc: dPEACC,
  xMin: 1894.55, xMax: 2088.52, yMin: 20.45, yMax: 25.66, yTicks: yTicksD, showX: true});
</script>
</body></html>
